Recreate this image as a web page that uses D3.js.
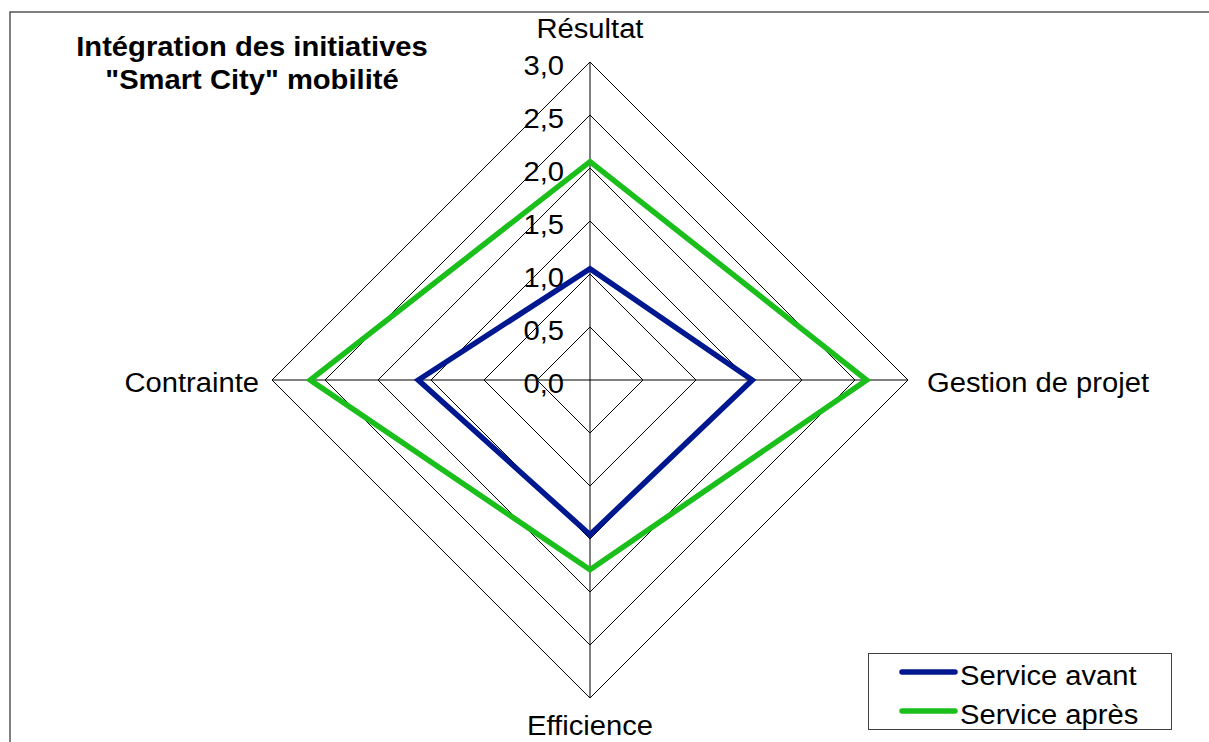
<!DOCTYPE html>
<html>
<head>
<meta charset="utf-8">
<script src="https://cdn.jsdelivr.net/npm/d3@7"></script>
<style>
  body { margin: 0; background: #fff; }
  text { font-family: "Liberation Sans", Arial, sans-serif; fill: #000; }
</style>
</head>
<body>
<div id="chart"></div>
<script>
// data
var axes = ["Résultat", "Gestion de projet", "Efficience", "Contrainte"]
var serviceAvant = [1.05, 1.53, 1.46, 1.62]
var serviceApres = [2.06, 2.61, 1.79, 2.64]
var ticks = [0, 0.5, 1, 1.5, 2, 2.5, 3]
var seriesNames = ["Service avant", "Service après"]
var seriesColors = ["#00188f", "#1bbf1b"]

var width = 1209, height = 742
var cx = 590, cy = 380
var stretch = 1.08   // text in the picture is a bit wider than plain Arial

var svg = d3.select("#chart").append("svg")
  .attr("width", width)
  .attr("height", height)

// outer frame (runs off the picture at right and bottom)
svg.append("rect")
  .attr("x", 10).attr("y", 12)
  .attr("width", width + 20).attr("height", height + 20)
  .attr("fill", "none").attr("stroke", "#555").attr("stroke-width", 1.5)

var r = d3.scaleLinear().domain([0, 3]).range([0, 318])

// angle of each axis, starting at the top and going clockwise
var angle = d3.scaleLinear().domain([0, axes.length]).range([0, 2 * Math.PI])

function point(v, i) {
  var a = angle(i)
  return [cx + r(v) * Math.sin(a), cy - r(v) * Math.cos(a)]
}

function addText(g, x, y, str, size, anchor, weight) {
  return g.append("text")
    .attr("transform", "translate(" + x + "," + y + ") scale(" + stretch + ",1)")
    .attr("text-anchor", anchor)
    .style("font-size", size + "px")
    .style("font-weight", weight || "normal")
    .text(str)
}

var grid = svg.append("g")

// rings
grid.selectAll("polygon.ring")
  .data(ticks.filter(function(t) { return t > 0 }))
  .enter().append("polygon")
  .attr("class", "ring")
  .attr("points", function(t) {
    return axes.map(function(a, i) { return point(t, i) }).join(" ")
  })
  .attr("fill", "none")
  .attr("stroke", "#000")
  .attr("stroke-width", 1)

// spokes
grid.selectAll("line.spoke")
  .data(axes)
  .enter().append("line")
  .attr("class", "spoke")
  .attr("x1", cx).attr("y1", cy)
  .attr("x2", function(d, i) { return point(3, i)[0] })
  .attr("y2", function(d, i) { return point(3, i)[1] })
  .attr("stroke", "#000")
  .attr("stroke-width", 1)

// tick labels along the top axis
ticks.forEach(function(t) {
  addText(svg, 564, cy - r(t) + 13, d3.format(".1f")(t).replace(".", ","), 27, "end")
})

// axis labels
addText(svg, cx, 38, axes[0], 27, "middle")
addText(svg, point(3, 1)[0] + 19, cy + 12, axes[1], 27, "start")
addText(svg, cx, 735, axes[2], 27, "middle")
addText(svg, point(3, 3)[0] - 13, cy + 12, axes[3], 27, "end")

// series
var line = d3.line().curve(d3.curveLinearClosed)
var allSeries = [serviceAvant, serviceApres]

svg.selectAll("path.series")
  .data(allSeries)
  .enter().append("path")
  .attr("class", "series")
  .attr("d", function(vals) {
    return line(vals.map(function(v, i) { return point(v, i) }))
  })
  .attr("fill", "none")
  .attr("stroke", function(d, i) { return seriesColors[i] })
  .attr("stroke-width", 5.5)
  .attr("stroke-linejoin", "miter")

// title
addText(svg, 252, 56, "Intégration des initiatives", 27, "middle", "bold")
addText(svg, 252, 89, "\"Smart City\" mobilité", 27, "middle", "bold")

// legend
var legend = svg.append("g")
legend.append("rect")
  .attr("x", 868.5).attr("y", 653.5)
  .attr("width", 303).attr("height", 76)
  .attr("fill", "#fff").attr("stroke", "#404040").attr("stroke-width", 1)

seriesNames.forEach(function(name, i) {
  var y = 672 + i * 39
  legend.append("line")
    .attr("x1", 902).attr("x2", 955)
    .attr("y1", y).attr("y2", y)
    .attr("stroke", seriesColors[i])
    .attr("stroke-width", 5.5)
    .attr("stroke-linecap", "round")
  addText(legend, 960, y + 13, name, 27, "start")
})
</script>
</body>
</html>
